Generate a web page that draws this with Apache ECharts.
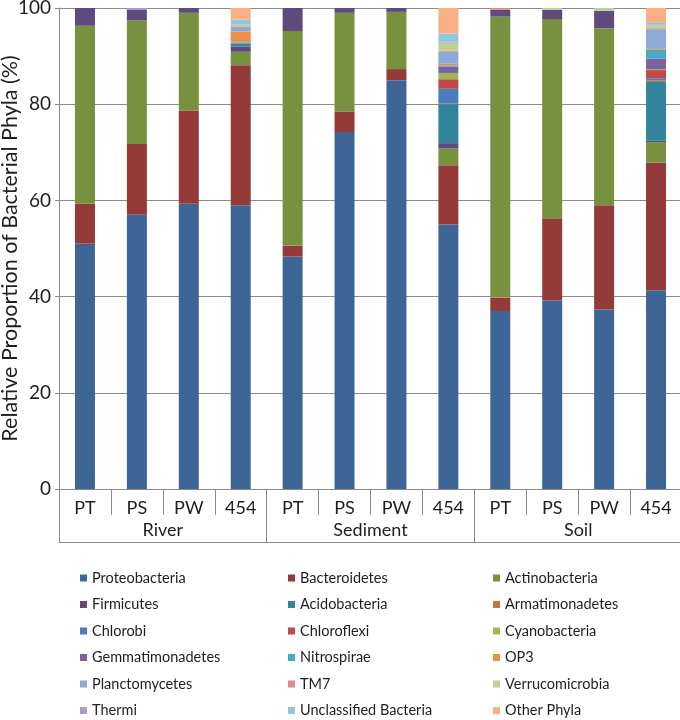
<!DOCTYPE html>
<html>
<head>
<meta charset="utf-8">
<script src="https://cdn.jsdelivr.net/npm/echarts@6/dist/echarts.min.js"></script>
<style>
html,body{margin:0;padding:0;background:#fff;}
#chart{width:680px;height:720px;}
</style>
</head>
<body>
<div id="chart"></div>
<script>
// Categories (sample methods within habitats)
const methods = ['PT','PS','PW','454','PT','PS','PW','454','PT','PS','PW','454'];
const habitats = ['River','Sediment','Soil'];
const yTicks = [0,20,40,60,80,100];

// Series values (%), order: River PT,PS,PW,454 | Sediment PT,PS,PW,454 | Soil PT,PS,PW,454
const proteobacteria   = [51.0,57.0,59.3,59.0, 48.3,74.2,85.0,55.0, 37.0,39.2,37.3,41.3];
const bacteroidetes    = [8.3,14.7,19.4,29.1, 2.3,4.3,2.3,12.3, 2.8,17.1,21.7,26.6];
const actinobacteria   = [37.0,25.7,20.3,2.8, 44.6,20.5,11.9,3.5, 58.4,41.4,36.8,4.2];
const firmicutes       = [3.7,2.3,1.0,1.1, 4.8,1.0,0.8,1.1, 1.4,1.9,3.6,0.3];
const acidobacteria    = [0,0,0,0.6, 0,0,0,8.1, 0,0,0,12.2];
const armatimonadetes  = [0,0,0,0, 0,0,0,0.1, 0,0,0,0.3];
const chlorobi         = [0,0,0,0.1, 0,0,0,3.1, 0,0,0,0.5];
const chloroflexi      = [0,0,0,0.1, 0,0,0,2.0, 0,0,0,1.7];
const cyanobacteria    = [0,0,0,0.2, 0,0,0,1.3, 0,0,0,0.2];
const gemmatimonadetes = [0,0,0,0.1, 0,0,0,1.3, 0,0,0,2.2];
const nitrospirae      = [0,0,0,0, 0,0,0,0.3, 0,0,0,1.8];
const op3              = [0,0,0,2.0, 0,0,0,0.3, 0,0,0,0.2];
const planctomycetes   = [0,0,0,1.0, 0,0,0,2.5, 0,0,0,4.1];
const tm7              = [0,0,0,0.1, 0,0,0,0.2, 0.4,0,0,0.2];
const verrucomicrobia  = [0,0,0,0.3, 0,0,0,1.7, 0,0.4,0.6,0.6];
const thermi           = [0,0.3,0,0.1, 0,0,0,0.2, 0,0,0,0.1];
const unclassified     = [0,0,0,1.0, 0,0,0,1.7, 0,0,0,0.4];
const otherPhyla       = [0,0,0,2.4, 0,0,0,5.3, 0,0,0,3.1];

const seriesDefs = [
  ['Proteobacteria', proteobacteria, '#3D6596'],
  ['Bacteroidetes', bacteroidetes, '#943B39'],
  ['Actinobacteria', actinobacteria, '#77913E'],
  ['Firmicutes', firmicutes, '#5F4A7D'],
  ['Acidobacteria', acidobacteria, '#31849B'],
  ['Armatimonadetes', armatimonadetes, '#C5743A'],
  ['Chlorobi', chlorobi, '#4A7DBB'],
  ['Chloroflexi', chloroflexi, '#BE4B48'],
  ['Cyanobacteria', cyanobacteria, '#98B954'],
  ['Gemmatimonadetes', gemmatimonadetes, '#7D60A0'],
  ['Nitrospirae', nitrospirae, '#46AAC5'],
  ['OP3', op3, '#EE8F45'],
  ['Planctomycetes', planctomycetes, '#8FA9D5'],
  ['TM7', tm7, '#D88E8C'],
  ['Verrucomicrobia', verrucomicrobia, '#BCD198'],
  ['Thermi', thermi, '#AD9CC6'],
  ['Unclassified Bacteria', unclassified, '#8FC8DB'],
  ['Other Phyla', otherPhyla, '#F8AF82']
];

const FONT = 'Lato';
const TXT = '#1e1e1e';
const AX = '#8a8a8a';

const series = seriesDefs.map(([name, data, color]) => ({
  name, type: 'bar', stack: 'all', data, barWidth: 20,
  itemStyle: {color}, xAxisIndex: 0, yAxisIndex: 0
}));

const names = seriesDefs.map(d => d[0]);
const col = k => names.filter((_, i) => i % 3 === k);
const legendBase = {
  orient: 'vertical', top: 570, padding: 0, itemGap: 10.5,
  itemWidth: 7, itemHeight: 7, icon: 'rect',
  textStyle: {fontFamily: FONT, fontSize: 14.5, color: TXT, lineHeight: 16}
};

const chart = echarts.init(document.getElementById('chart'), null, {renderer: 'canvas'});
chart.setOption({
  animation: false,
  textStyle: {fontFamily: FONT},
  grid: {left: 59, top: 8, width: 623, height: 481, containLabel: false, outerBoundsMode: 'none'},
  legend: [
    Object.assign({}, legendBase, {left: 80, data: col(0)}),
    Object.assign({}, legendBase, {left: 288, data: col(1)}),
    Object.assign({}, legendBase, {left: 493, data: col(2)})
  ],
  xAxis: [
    {
      type: 'category', data: methods, position: 'bottom',
      axisLine: {show: true, lineStyle: {color: AX, width: 1}},
      axisTick: {show: true, interval: 0, length: 26, lineStyle: {color: AX}},
      axisLabel: {interval: 0, margin: 10, fontFamily: FONT, fontSize: 18, color: TXT}
    },
    {
      type: 'category', data: habitats, position: 'bottom', offset: 0,
      axisLine: {show: false},
      axisTick: {show: true, interval: 0, length: 53, lineStyle: {color: AX}},
      axisLabel: {interval: 0, margin: 32, fontFamily: FONT, fontSize: 18, color: TXT}
    },
    {
      type: 'category', data: habitats, position: 'bottom', offset: 53,
      axisLine: {show: true, lineStyle: {color: AX}},
      axisTick: {show: false}, axisLabel: {show: false}
    }
  ],
  yAxis: {
    type: 'value', min: yTicks[0], max: yTicks[yTicks.length - 1], interval: 20,
    name: 'Relative Proportion of Bacterial Phyla (%)',
    nameLocation: 'middle', nameGap: 38, nameMoveOverlap: false,
    nameTextStyle: {fontFamily: FONT, fontSize: 21.5, color: TXT},
    axisLine: {show: true, lineStyle: {color: AX}},
    axisTick: {show: true, length: 4, lineStyle: {color: AX}},
    axisLabel: {margin: 8, fontFamily: FONT, fontSize: 19, color: TXT},
    splitLine: {show: true, lineStyle: {color: AX, width: 1}}
  },
  series
});
</script>
</body>
</html>
